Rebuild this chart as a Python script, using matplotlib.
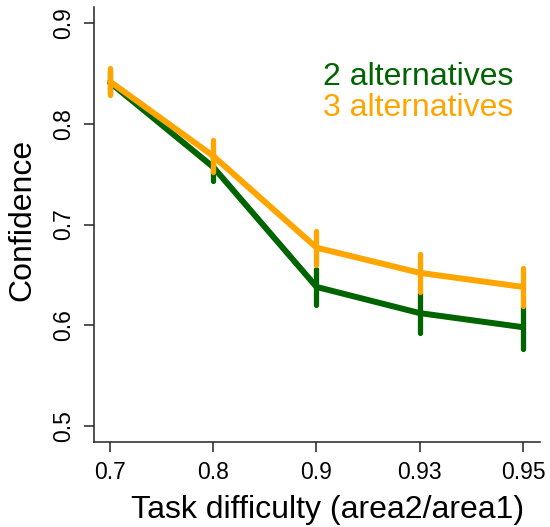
import matplotlib
matplotlib.use('Agg')
import matplotlib.pyplot as plt
import numpy as np

plt.rcParams['font.family'] = ['Liberation Sans', 'DejaVu Sans']

# task difficulty levels (categorical x axis)
difficulty = ['0.7', '0.8', '0.9', '0.93', '0.95']

# mean confidence and error (half-length of bars)
conf_2alt = [0.841, 0.757, 0.638, 0.612, 0.598]
err_2alt = [0.011, 0.0135, 0.0175, 0.0195, 0.0215]
conf_3alt = [0.842, 0.768, 0.677, 0.652, 0.638]
err_3alt = [0.013, 0.016, 0.017, 0.019, 0.019]

green = '#006400'
orange = '#FFA500'

fig = plt.figure(figsize=(5.5, 5.27), dpi=100)
ax = fig.add_axes([93.5/550, 85/527, 446/550, 435/527])

x = np.arange(1, len(difficulty) + 1)

for y, e, col in [(conf_2alt, err_2alt, green), (conf_3alt, err_3alt, orange)]:
    ax.plot(x, y, color=col, lw=4.3, solid_joinstyle='round',
            solid_capstyle='round', clip_on=False)
    bars = ax.vlines(x, np.array(y) - np.array(e), np.array(y) + np.array(e),
                     color=col, lw=3.8, clip_on=False)
    bars.set_capstyle('round')

# R pads the range by 4% on each side
ax.set_xlim(0.84, 5.16)
ax.set_ylim(0.484, 0.916)

ax.spines['top'].set_visible(False)
ax.spines['right'].set_visible(False)
for sp in ['left', 'bottom']:
    ax.spines[sp].set_linewidth(1.1)
    ax.spines[sp].set_color('#222222')

ax.set_xticks(x)
ax.set_xticklabels(difficulty)
ax.set_yticks([0.5, 0.6, 0.7, 0.8, 0.9])
ax.set_yticklabels(['0.5', '0.6', '0.7', '0.8', '0.9'], rotation=90, va='center')
ax.tick_params(axis='both', direction='out', length=7.5, width=1.1,
               color='#222222', labelsize=16.5)
ax.tick_params(axis='x', pad=6)
ax.tick_params(axis='y', pad=6)

fig.text(328/550, 1 - 518/527, 'Task difficulty (area2/area1)',
         ha='center', va='baseline', fontsize=23)
fig.text(22/550, 1 - 220/527, 'Confidence', rotation=90,
         ha='center', va='center', fontsize=23)

fig.text(323/550, 1 - 85/527, '2 alternatives', color=green,
         ha='left', va='baseline', fontsize=23)
fig.text(323/550, 1 - 116.5/527, '3 alternatives', color=orange,
         ha='left', va='baseline', fontsize=23)

fig.savefig('out.png', dpi=100)
